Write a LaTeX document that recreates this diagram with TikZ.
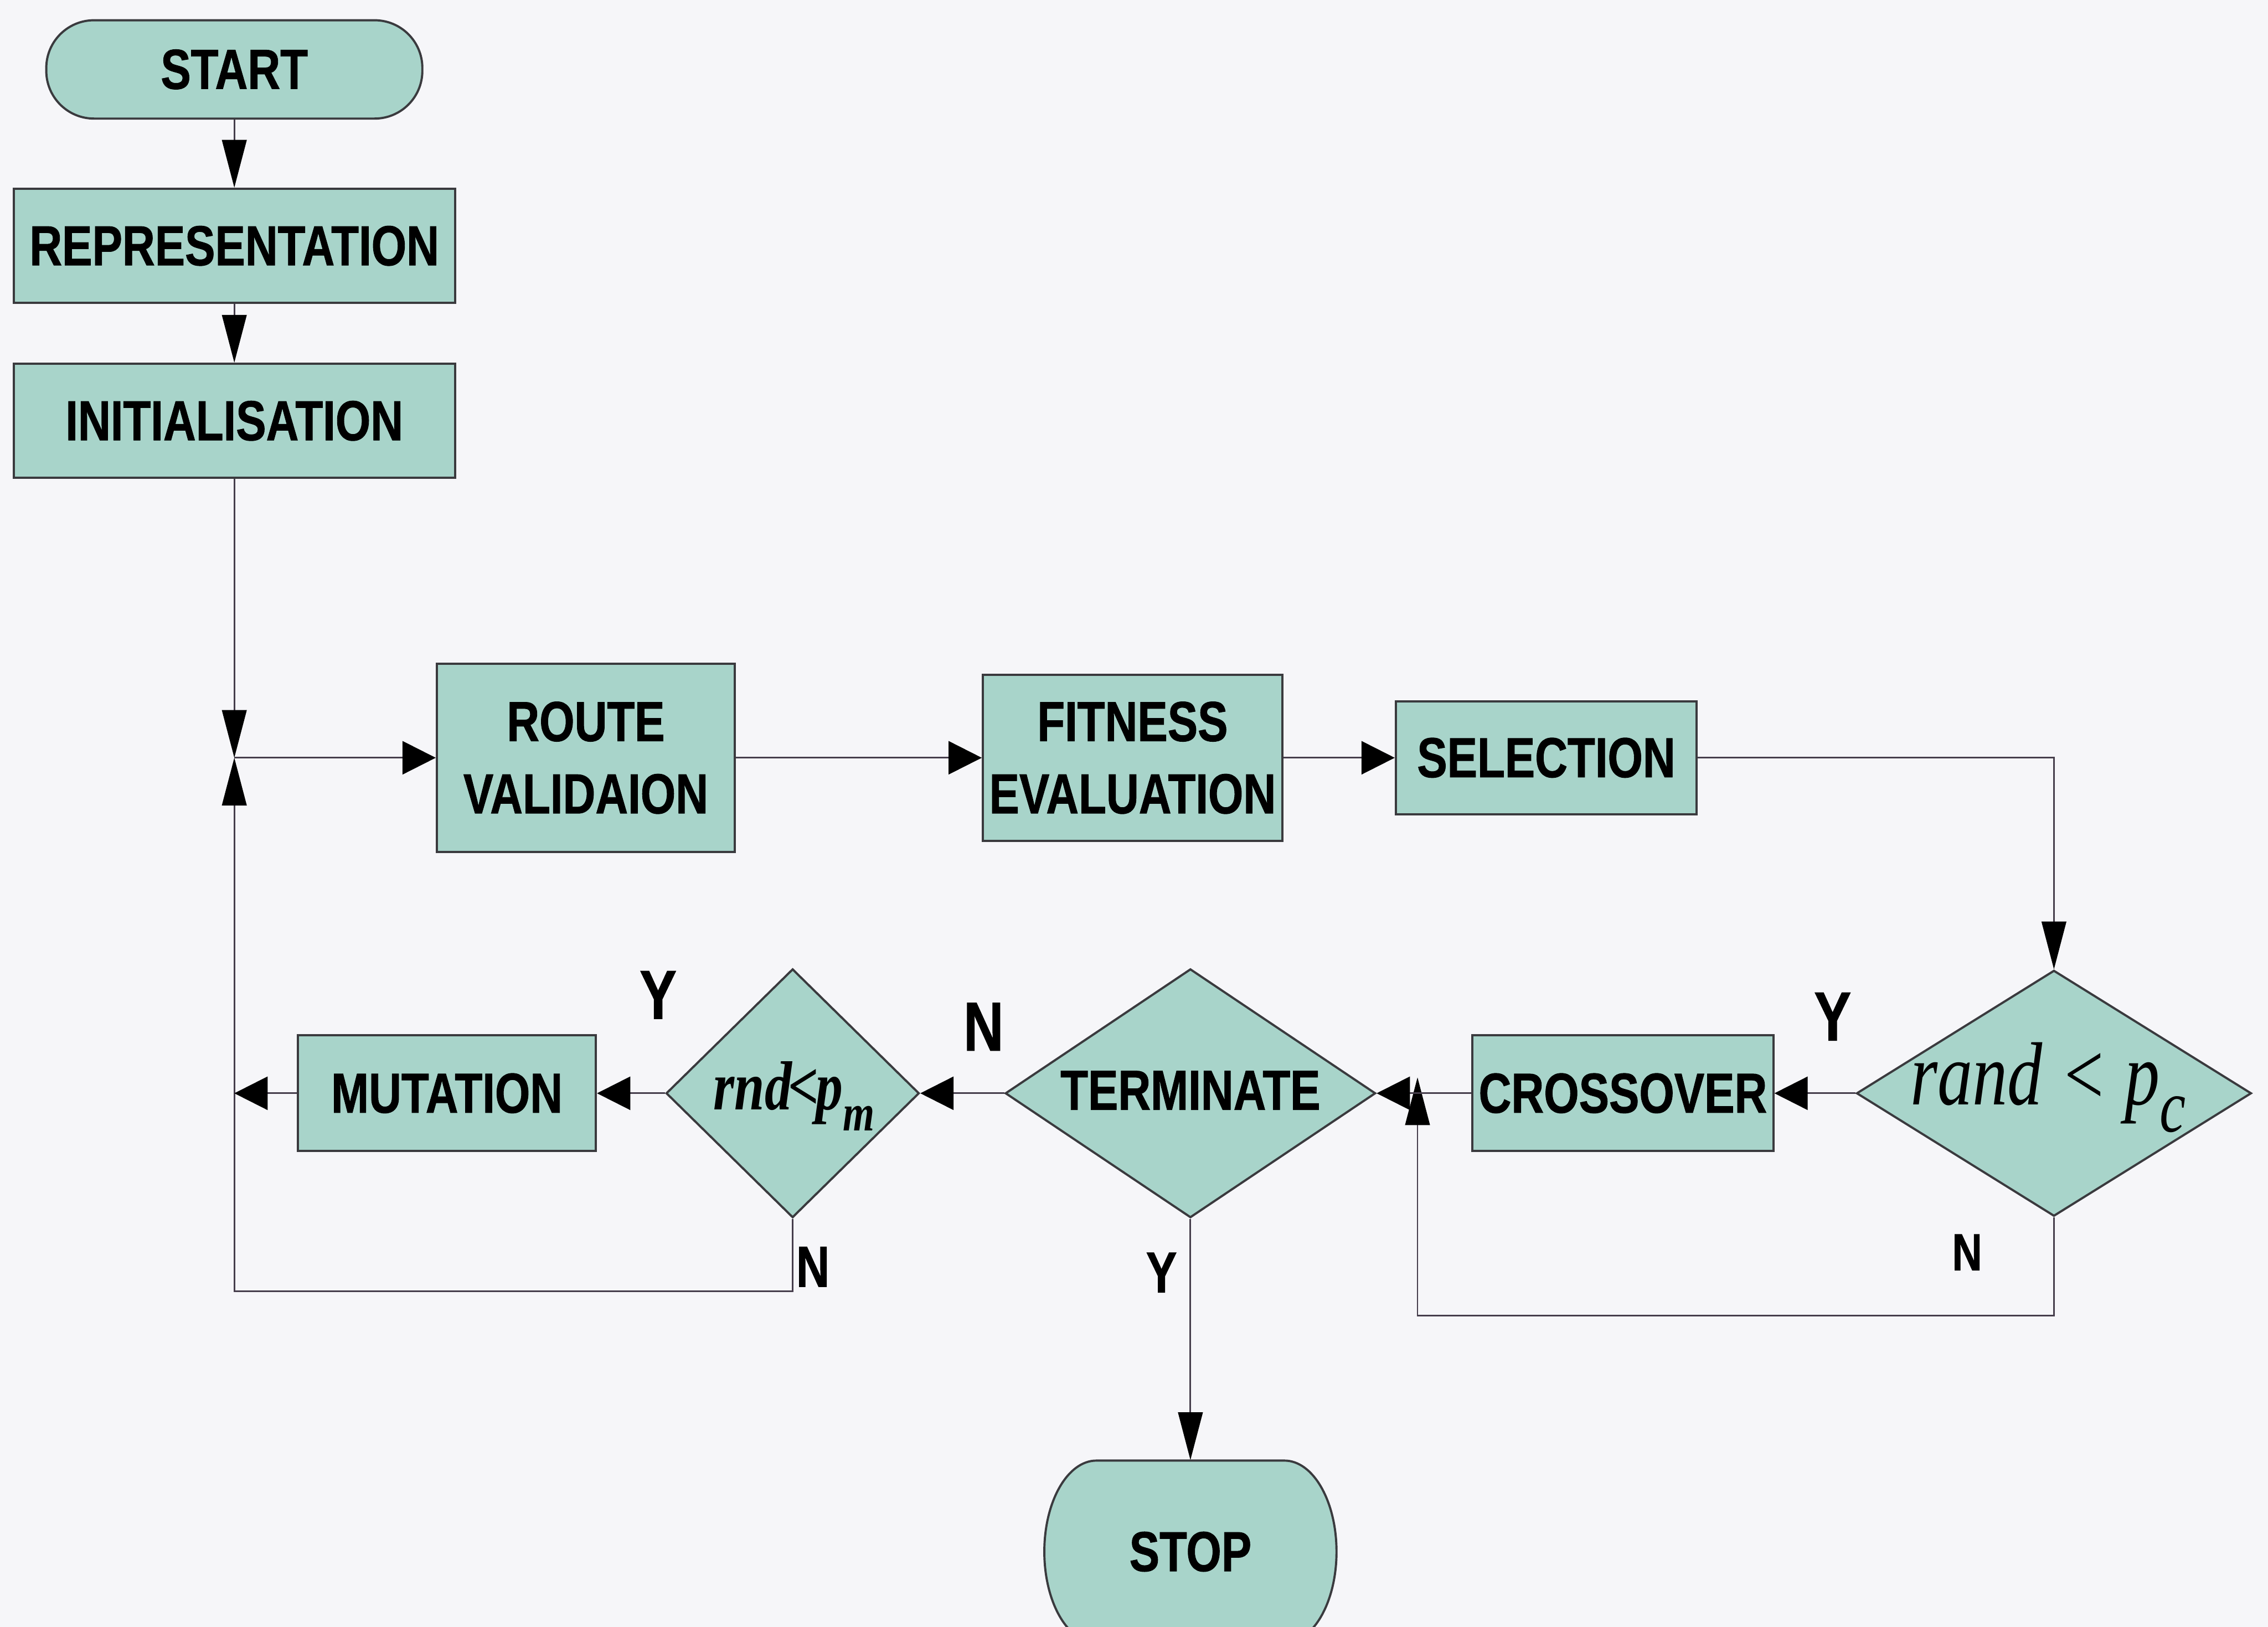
\documentclass[tikz,border=0pt]{standalone}
\usepackage{fontspec}
\setmainfont{Liberation Sans}
\newfontfamily\boxfont[FakeStretch=0.8, BoldFeatures={FakeBold=0.9}]{Liberation Sans}
\newfontfamily\condserif[FakeStretch=0.78]{Liberation Serif}
\usetikzlibrary{arrows.meta,shapes.geometric}
\definecolor{boxfill}{RGB}{168,212,202}
\definecolor{boxline}{RGB}{58,58,62}
\definecolor{wirecol}{RGB}{70,62,76}
\definecolor{paper}{RGB}{246,246,249}

\begin{document}
\begin{tikzpicture}[x=0.5pt,y=-0.5pt,
  box/.style={draw=boxline, line width=0.75pt, fill=boxfill, rectangle, inner sep=0pt,
    font=\boxfont\bfseries\fontsize{19.5}{25}\selectfont, align=center},
  startbox/.style={box, rounded corners=16.5pt},
  decision/.style={draw=boxline, line width=0.75pt, fill=boxfill, diamond, inner sep=0pt},
  boxtext/.style={inner sep=0pt, font=\boxfont\bfseries\fontsize{19.5}{25}\selectfont},
  wire/.style={draw=wirecol, line width=0.55pt},
  varrow/.style={wire, -{Triangle[length=16.5pt,width=8.5pt,color=black,fill=black]}},
  harrow/.style={wire, -{Triangle[length=11.5pt,width=11.5pt,color=black,fill=black]}},
  tag/.style={inner sep=0pt, font=\boxfont\bfseries\fontsize{24}{24}\selectfont},
  smalltag/.style={inner sep=0pt, font=\boxfont\bfseries\fontsize{20}{20}\selectfont},
]
% page
\useasboundingbox (0,0) rectangle (1568,1125);
\clip (0,0) rectangle (1568,1125);
\fill[paper] (0,0) rectangle (1568,1125);

% left column
\node[startbox, minimum width=130pt, minimum height=34pt] (start) at (162,48) {START};
\node[box, minimum width=152.5pt, minimum height=39.5pt] (rep) at (162,170) {REPRESENTATION};
\node[box, minimum width=152.5pt, minimum height=39.5pt] (init) at (162,291) {INITIALISATION};

% upper row
\node[box, minimum width=103pt, minimum height=65pt] (route) at (405,524) {ROUTE\\VALIDAION};
\node[box, minimum width=103.5pt, minimum height=57.5pt] (fit) at (783,524) {FITNESS\\EVALUATION};
\node[box, minimum width=104pt, minimum height=39pt] (sel) at (1069,524) {SELECTION};

% lower row
\node[decision, minimum width=136.5pt, minimum height=85pt] (rand) at (1420,756) {};
\node[inner sep=0pt, font=\condserif\itshape\fontsize{31}{31}\selectfont] (randtxt) at (1416,752)
  {rand < p\raisebox{-0.3em}{\fontsize{26}{26}\selectfont c}};
\node[box, minimum width=104pt, minimum height=40pt] (cross) at (1122,756) {CROSSOVER};
\node[decision, minimum width=128pt, minimum height=86pt] (term) at (823,756) {};
\node[boxtext] (termtxt) at (823,754) {TERMINATE};
\node[decision, minimum width=87.5pt, minimum height=86pt] (rnd) at (548,756) {};
\node[inner sep=0pt, font=\condserif\bfseries\itshape\fontsize{24}{24}\selectfont] (rndtxt) at (549,758)
  {rnd\kern-0.05em<\kern-0.05em p\raisebox{-0.3em}{\fontsize{18}{18}\selectfont m}};
\node[box, minimum width=103pt, minimum height=40pt] (mut) at (309,756) {MUTATION};

% terminal shape at the bottom
\filldraw[fill=boxfill, draw=boxline, line width=0.75pt]
  (758,1010) -- (888,1010)
  .. controls (907.9,1010) and (924,1038.2) .. (924,1073)
  .. controls (924,1107.8) and (907.9,1136) .. (888,1136)
  -- (758,1136)
  .. controls (738.1,1136) and (722,1107.8) .. (722,1073)
  .. controls (722,1038.2) and (738.1,1010) .. cycle;
\node[boxtext, minimum width=101pt, minimum height=63pt] (stop) at (823,1073) {STOP};

% connector corners
\coordinate (jn) at (162,524);
\coordinate (mloop) at (162,893);
\coordinate (nend) at (980,745);

% connectors
\draw[varrow] (start) -- (rep);
\draw[varrow] (rep) -- (init);
\draw[varrow] (init.south) -- (jn);
\draw[harrow] (jn) -- (route.west);
\draw[varrow] (rnd.south) |- (mloop) -- (jn);
\draw[harrow] (route) -- (fit);
\draw[harrow] (fit) -- (sel);
\draw[varrow] (sel.east) -| (rand.north);
\draw[harrow] (rand.west) -- (cross.east);
\draw[varrow] (rand.south) -- ++(0,68) -| (nend);
\draw[harrow] (cross) -- (term.east);
\draw[harrow] (term) -- (rnd);
\draw[harrow] (rnd) -- (mut);
\draw[harrow] (mut.west) -- (mut.west -| jn);
\draw[varrow] (term.south) -- (stop.north);

% branch labels
\node[tag] (ymut) at (455,688) {Y};
\node[tag] (nterm) at (680,710) {N};
\node[tag] (ycross) at (1267,703) {Y};
\node[smalltag] (nloop) at (562,876) {N};
\node[smalltag] (ystop) at (803,880) {Y};
\node[inner sep=0pt, font=\boxfont\bfseries\fontsize{18}{18}\selectfont] (nrand) at (1360,866) {N};
\end{tikzpicture}
\end{document}
